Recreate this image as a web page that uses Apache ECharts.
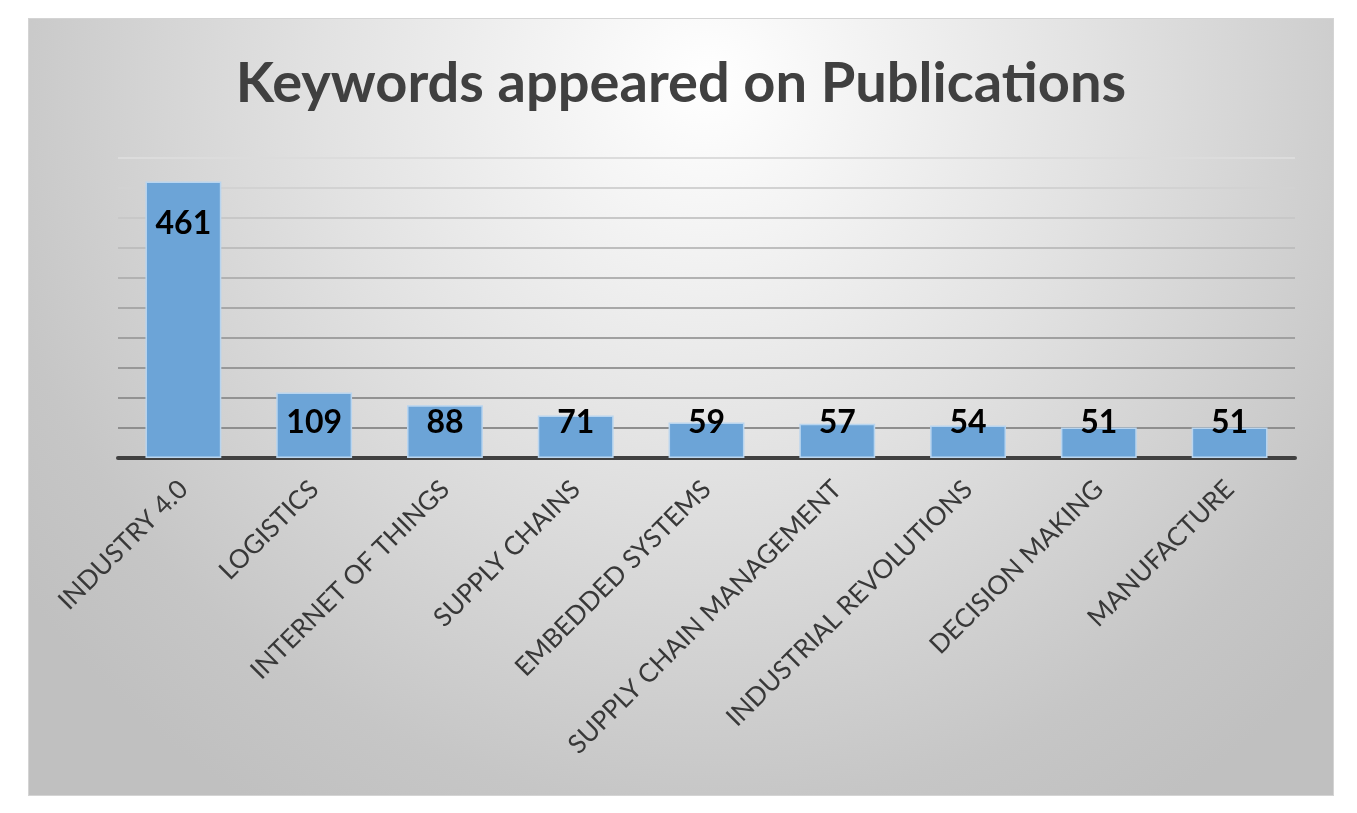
<!DOCTYPE html>
<html>
<head>
<meta charset="utf-8">
<script src="https://cdn.jsdelivr.net/npm/echarts@6/dist/echarts.min.js"></script>
<style>
  html, body { margin: 0; padding: 0; background: #ffffff; width: 1357px; height: 813px; overflow: hidden; }
  #chart { position: absolute; left: 28px; top: 18px; width: 1304px; height: 776px; border: 1px solid #d4d4d4; }
</style>
</head>
<body>
<div id="chart"></div>
<script>
const titleText = 'Keywords appeared on Publications';
const categories = ['INDUSTRY 4.0', 'LOGISTICS', 'INTERNET OF THINGS', 'SUPPLY CHAINS', 'EMBEDDED SYSTEMS',
  'SUPPLY CHAIN MANAGEMENT', 'INDUSTRIAL REVOLUTIONS', 'DECISION MAKING', 'MANUFACTURE'];
const counts = [461, 109, 88, 71, 59, 57, 54, 51, 51];
const yMin = 0;
const yMax = 500;
const yStep = 50;

const chart = echarts.init(document.getElementById('chart'), null, { renderer: 'canvas' });

const gridColors = ['#8e8e8e', '#8e8e8e', '#929292', '#989898', '#a0a0a0', '#a8a8a8', '#b2b2b2', '#bebebe', '#c8c8c8', '#d2d2d2', '#dcdcdc'];

const option = {
  animation: false,
  backgroundColor: {
    type: 'radial', x: 0.52, y: 0.08, r: 1.1,
    colorStops: [
      { offset: 0, color: '#ffffff' },
      { offset: 0.45, color: '#e2e2e2' },
      { offset: 0.85, color: '#c6c6c6' },
      { offset: 1, color: '#c0c0c0' }
    ]
  },
  title: {
    text: titleText,
    left: 'center',
    top: 32,
    textStyle: { fontFamily: 'Lato', fontWeight: 'bold', fontSize: 56, color: '#404040' }
  },
  grid: { left: 89, right: 38, top: 139, bottom: 337 },
  xAxis: {
    type: 'category',
    data: categories,
    axisLine: { lineStyle: { color: '#404040', width: 4 } },
    axisTick: { show: false },
    axisLabel: {
      interval: 0,
      rotate: 45,
      margin: 27,
      fontFamily: 'Lato',
      fontSize: 26,
      color: '#383838'
    }
  },
  yAxis: {
    type: 'value',
    min: yMin,
    max: yMax,
    interval: yStep,
    axisLabel: { show: false },
    axisLine: { show: false },
    axisTick: { show: false },
    splitLine: { lineStyle: { color: gridColors, width: 2 } }
  },
  series: [{
    type: 'bar',
    barCategoryGap: '42%',
    itemStyle: { color: '#6ca4d7', borderColor: '#b9d5ef', borderWidth: 1.5 },
    data: counts.map(v => ({
      value: v,
      label: v > 200
        ? { position: 'insideTop', distance: 26 }
        : { position: 'insideBottom', distance: 19 }
    })),
    label: {
      show: true,
      fontFamily: 'Lato',
      fontWeight: 'bold',
      fontSize: 32,
      lineHeight: 32,
      color: '#000000'
    }
  }]
};
chart.setOption(option);
</script>
</body>
</html>
